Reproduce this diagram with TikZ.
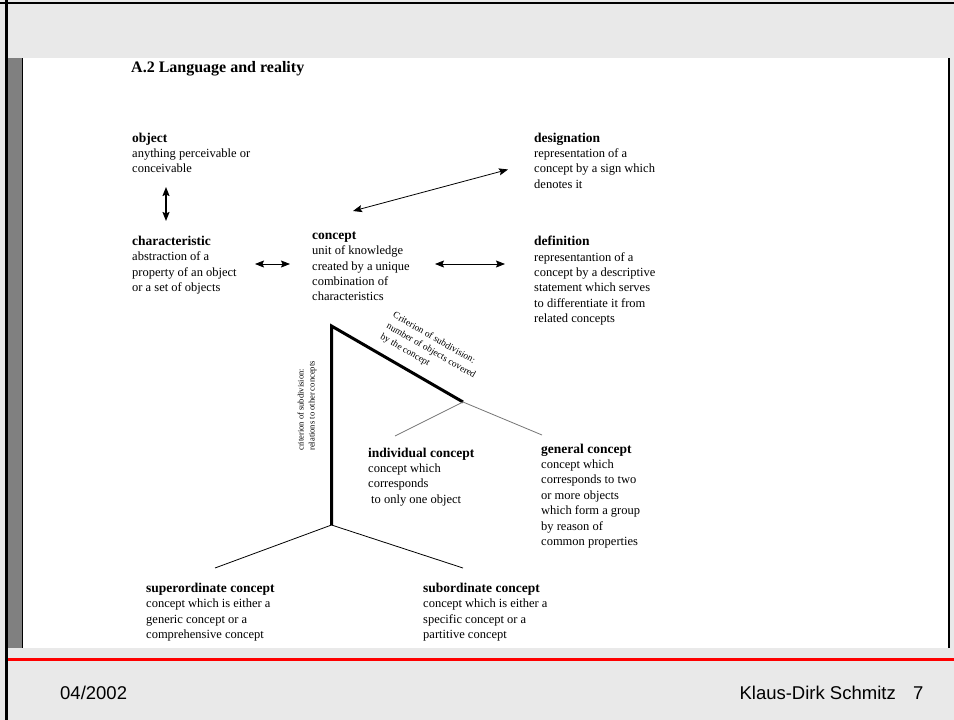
\documentclass[tikz,border=0pt]{standalone}
\usepackage{fontspec}
\setmainfont{Liberation Serif}
\newfontfamily\footfont{Liberation Sans}
\usepackage{xcolor}
\usepackage{tikz}
\usetikzlibrary{arrows.meta}

\definecolor{slidegray}{RGB}{233,233,233}
\definecolor{bargray}{RGB}{128,128,128}
\definecolor{branchgray}{RGB}{118,118,118}

\newcommand{\term}[1]{{\fontsize{13.5}{15.4}\selectfont\bfseries #1}}

\begin{document}
\begin{tikzpicture}[x=1pt, y=-1pt, >={Stealth[length=9pt, width=7pt, inset=1.5pt]},
    block/.style={anchor=north west, align=left, inner sep=0pt, font=\fontsize{12.5}{15.4}\selectfont},
    note/.style={align=left, inner sep=0pt, font=\fontsize{9.5}{12.5}\selectfont},
    link/.style={<->, line width=0.8pt},
    trunk/.style={line width=3pt, line join=miter},
    twig/.style={line width=0.8pt},
    foot/.style={inner sep=0pt, font=\footfont\fontsize{18.5}{20}\selectfont}]
    \useasboundingbox (0,0) rectangle (954,720);

    % slide frame
    \fill[slidegray] (0,0) rectangle (954,720);
    \fill[white] (23,58) rectangle (948,648);
    \fill[bargray] (8,58) rectangle (22,648);
    \draw[line width=1pt] (22.5,58) -- (22.5,648);
    \draw[line width=2pt] (949,58) -- (949,648);
    \draw[line width=2.5pt] (6.5,0) -- (6.5,720);
    \draw[line width=2pt] (0,3) -- (954,3);
    \draw[red, line width=3pt] (8,659) -- (954,659);

    \node[anchor=base west, inner sep=0pt, font=\fontsize{16}{18}\selectfont\bfseries] at (131,72) (title) {A.2 Language and reality};

    \node[block] at (132, 132.5) (object) {\term{object}\\anything perceivable or\\conceivable};
    \node[block] at (132, 236) (characteristic) {\term{characteristic}\\abstraction of a\\property of an object\\or a set of objects};
    \node[block] at (312, 231.5) (concept) {\term{concept}\\unit of knowledge\\created by a unique\\combination of\\characteristics};
    \node[block] at (534, 132.5) (designation) {\term{designation}\\representation of a\\concept by a sign which\\denotes it};
    \node[block] at (534, 236) (definition) {\term{definition}\\representantion of a\\concept by a descriptive\\statement which serves\\to differentiate it from\\related concepts};

    \node[block] at (368, 447.5) (individual) {\term{individual concept}\\concept which\\corresponds\\\hspace*{3pt}to only one object};
    \node[block] at (541, 443.5) (general) {\term{general concept}\\concept which\\corresponds to two\\or more objects\\which form a group\\by reason of\\common properties};
    \node[block] at (146, 583) (superordinate) {\term{superordinate concept}\\concept which is either a\\generic concept or a\\comprehensive concept};
    \node[block] at (423, 583) (subordinate) {\term{subordinate concept}\\concept which is either a\\specific concept or a\\partitive concept};

    \node[note, rotate=-30] at (431,351) (critcount) {Criterion of subdivision:\\number of objects covered\\by the concept};
    \node[note, rotate=90, font=\fontsize{8.5}{11}\selectfont] at (307,406) (critrel) {criterion of subdivision:\\relations to other concepts};

    % arrows
    \coordinate (obj-a) at (166,187);
    \coordinate (obj-b) at (166,221);
    \coordinate (char-a) at (255,264);
    \coordinate (char-b) at (290,264);
    \coordinate (def-a) at (435,264);
    \coordinate (def-b) at (505,264);
    \coordinate (des-a) at (353,211);
    \coordinate (des-b) at (508,169.5);
    \draw[link, line width=1.5pt] (obj-a) -- (obj-b);
    \draw[link] (char-a) -- (char-b);
    \draw[link] (def-a) -- (def-b);
    \draw[link] (des-a) -- (des-b);

    % subdivision tree
    \coordinate (apex) at (331.5,326);
    \coordinate (fork) at (463,402);
    \coordinate (root) at (331.5,525);
    \coordinate (indiv-end) at (395,436);
    \coordinate (gen-end) at (542,435);
    \coordinate (super-end) at (215,568);
    \coordinate (sub-end) at (463,568);
    \draw[trunk] (root) -- (apex) -- (fork);
    \draw[twig, branchgray] (fork) -- (indiv-end);
    \draw[twig, branchgray] (fork) -- (gen-end);
    \draw[twig] (root) -- (super-end);
    \draw[twig] (root) -- (sub-end);

    \node[foot, anchor=base west] at (60,699) (date) {04/2002};
    \node[foot, anchor=base east] at (896,699) (author) {Klaus-Dirk Schmitz};
    \node[foot, anchor=base west] at (913,699) (page) {7};
\end{tikzpicture}
\end{document}
